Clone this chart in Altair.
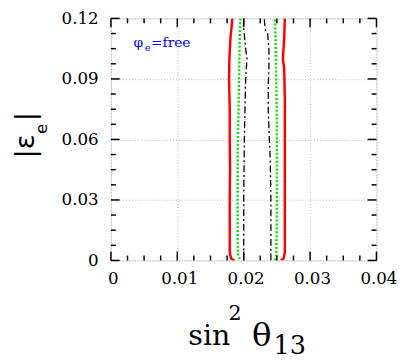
import altair as alt
import pandas as pd

# ---- data ----
red_left_y = [0.12, 0.11, 0.10, 0.09, 0.075, 0.06, 0.045, 0.03, 0.015, 0.004, 0.001, 0.0]
red_left_x = [0.0183, 0.0180, 0.01785, 0.0178, 0.0179, 0.0179, 0.01795, 0.0179, 0.0179, 0.0179, 0.0181, 0.0186]
red_right_y = [0.0, 0.001, 0.004, 0.03, 0.06, 0.08, 0.095, 0.100, 0.105, 0.11, 0.12]
red_right_x = [0.0256, 0.0260, 0.0262, 0.0262, 0.0262, 0.0262, 0.0261, 0.0259, 0.0260, 0.0261, 0.0262]

green_left_y = [0.12, 0.11, 0.09, 0.07, 0.05, 0.03, 0.01, 0.002, 0.0]
green_left_x = [0.0195, 0.0194, 0.0193, 0.0192, 0.0191, 0.0191, 0.0191, 0.0192, 0.0196]
green_right_y = [0.0, 0.002, 0.02, 0.05, 0.07, 0.09, 0.11, 0.12]
green_right_x = [0.0247, 0.0249, 0.0250, 0.0250, 0.0250, 0.0249, 0.0248, 0.0247]

black_left_y = [0.12, 0.115, 0.105, 0.10, 0.095, 0.09, 0.075, 0.06, 0.03, 0.0]
black_left_x = [0.0200, 0.0200, 0.0203, 0.0205, 0.0204, 0.0203, 0.0202, 0.0201, 0.0200, 0.0200]
black_right_y = [0.0, 0.03, 0.05, 0.065, 0.075, 0.085, 0.095, 0.105, 0.1128, 0.1142, 0.12]
black_right_x = [0.0241, 0.0241, 0.0240, 0.0238, 0.0237, 0.0237, 0.0238, 0.0238, 0.0236, 0.02325, 0.0231]

x_major = [0, 0.01, 0.02, 0.03, 0.04]
x_minor = [0.0025, 0.005, 0.0075, 0.0125, 0.015, 0.0175, 0.0225, 0.025, 0.0275,
           0.0325, 0.035, 0.0375]
y_major = [0, 0.03, 0.06, 0.09, 0.12]
y_minor = [0.0075, 0.015, 0.0225, 0.0375, 0.045, 0.0525, 0.0675, 0.075, 0.0825,
           0.0975, 0.105, 0.1125]

W, H = 271, 247
SERIF = "DejaVu Serif"
SANS = "DejaVu Sans"

rows = []
for name, side, xs, ys in [
    ("red", "L", red_left_x, red_left_y), ("red", "R", red_right_x, red_right_y),
    ("green", "L", green_left_x, green_left_y), ("green", "R", green_right_x, green_right_y),
    ("black", "L", black_left_x, black_left_y), ("black", "R", black_right_x, black_right_y),
]:
    for i, (xv, yv) in enumerate(zip(xs, ys)):
        rows.append({"c": name, "side": side, "o": i, "x": xv, "y": yv})
curves = pd.DataFrame(rows)

xscale = alt.Scale(domain=[0, 0.04], nice=False, zero=False)
yscale = alt.Scale(domain=[0, 0.12], nice=False, zero=False)
LBL = "datum.value == 0 ? '0' : format(datum.value, '.2f')"
xaxis = alt.Axis(values=x_major, labelExpr=LBL,
                 ticks=False, domain=False, grid=True, gridDash=[1, 2], gridColor="#b8b8b8",
                 labelFont=SERIF, labelFontSize=17, labelColor="black", labelPadding=11,
                 labelOffset=2, labelFlush=False, labelOverlap=False, title=None)
yaxis = alt.Axis(values=y_major, labelExpr=LBL,
                 ticks=False, domain=False, grid=True, gridDash=[1, 2], gridColor="#b8b8b8",
                 labelFont=SERIF, labelFontSize=17, labelColor="black", labelPadding=13,
                 labelFlush=False, labelOverlap=False, title=None)
X = alt.X("x:Q", scale=xscale, axis=xaxis)
Y = alt.Y("y:Q", scale=yscale, axis=yaxis)


def curve(name, color, width, dash=None):
    kw = dict(color=color, strokeWidth=width, clip=True)
    if dash:
        kw["strokeDash"] = dash
    return (alt.Chart(curves).transform_filter(alt.datum.c == name)
            .mark_line(**kw)
            .encode(x=X, y=Y, detail="side:N", order="o:Q"))


layers = [
    curve("red", "#ff0000", 2.5),
    curve("green", "#00e600", 2.5, [2, 2]),
    curve("black", "#000000", 1.3, [7, 3, 2, 3]),
]

xmaj = pd.DataFrame({"x": x_major})
xmin = pd.DataFrame({"x": x_minor})
ymaj = pd.DataFrame({"y": y_major})
ymin = pd.DataFrame({"y": y_minor})
tk = dict(color="black", strokeWidth=1.5)
for df, ln in [(xmaj, 9), (xmin, 5)]:
    layers.append(alt.Chart(df).mark_rule(**tk).encode(x=X, y=alt.value(H), y2=alt.value(H - ln)))
    layers.append(alt.Chart(df).mark_rule(**tk).encode(x=X, y=alt.value(0), y2=alt.value(ln)))
for df, ln in [(ymaj, 9), (ymin, 5)]:
    layers.append(alt.Chart(df).mark_rule(**tk).encode(y=Y, x=alt.value(0), x2=alt.value(ln)))
    layers.append(alt.Chart(df).mark_rule(**tk).encode(y=Y, x=alt.value(W), x2=alt.value(W - ln)))

# ---- text pieces (plot origin at page (113, 15)) ----
OX, OY = 113, 15


def txt(s, px, py, size, font, color="black", angle=0, align="left", baseline="alphabetic"):
    kw = dict(font=font, fontSize=size, color=color, align=align, baseline=baseline)
    if angle:
        kw["angle"] = angle
    return (alt.Chart(pd.DataFrame({"t": [s]})).mark_text(**kw)
            .encode(text="t:N", x=alt.value(px - OX), y=alt.value(py - OY)))


layers += [
    txt("φ", 136, 44, 14, SERIF, "#0000ff"),
    txt("e", 147.5, 48, 10, SERIF, "#0000ff"),
    txt("=free", 154, 44, 14, SERIF, "#0000ff"),
    # y title |ε_e|
    txt("|ε", 35, 158, 28, SANS, angle=270),
    txt("e", 48, 133, 17, SANS, angle=270),
    txt("|", 35, 120, 28, SANS, angle=270),
    # x title sin^2 θ_13
    txt("sin", 192, 348, 29, SERIF),
    txt("2", 233, 323, 21, SERIF),
    txt("θ", 257, 349, 33, SERIF),
    txt("13", 279, 357, 26, SERIF),
]

chart = alt.layer(*layers).properties(
    width=W, height=H,
    autosize=alt.AutoSizeParams(type="none"),
    padding={"left": 105, "top": 7, "right": 23, "bottom": 100},
).configure_view(stroke="black", strokeWidth=2).configure(background="white")

chart.save("out.html", embed_options={"renderer": "svg", "actions": False})
